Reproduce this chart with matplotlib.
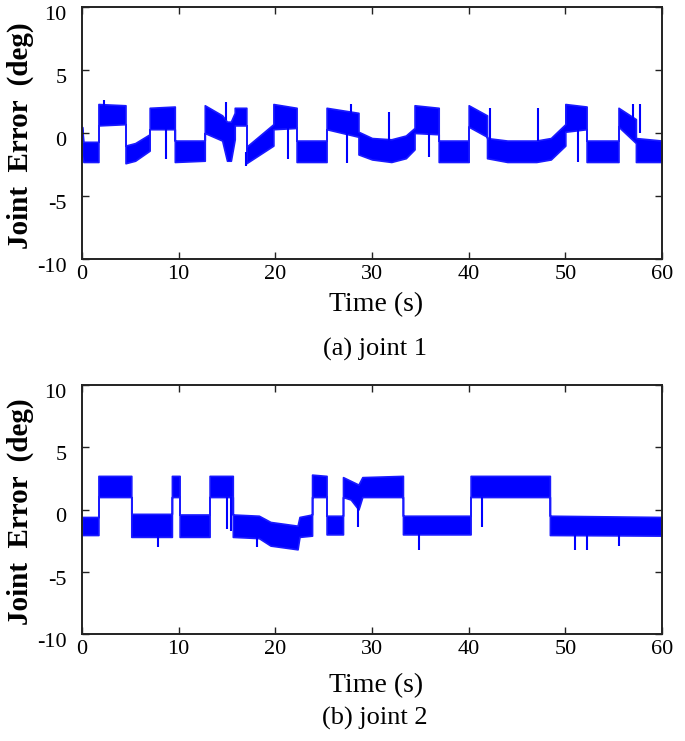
#recreating joint error plots for two joints
import numpy as np
import matplotlib
matplotlib.use('Agg')
import matplotlib.pyplot as plt
import matplotlib.transforms as mtrans

#joint 1 noise band : time, lower edge, upper edge
t1 = [0, 0.15, 1.7, 1.7, 4.5, 4.5, 5.5, 7.0, 7.0, 9.6, 9.6, 12.7, 12.7, 14.5, 15.0, 15.4, 15.8,
      15.8, 17.0, 17.0, 19.8, 19.8, 22.2, 22.2, 25.3, 25.3, 28.6, 28.6, 30.0, 32.0, 33.5, 34.4,
      34.4, 36.9, 36.9, 40.0, 40.0, 41.9, 41.9, 44.0, 47.0, 48.5, 50.0, 50.0, 52.2, 52.2, 55.5,
      55.5, 57.3, 57.3, 60.0]
lo1 = [-1.8, -2.3, -2.3, 0.6, 0.7, -2.4, -2.2, -1.4, 0.3, 0.3, -2.3, -2.2, 0.0, -0.6, -2.2, -2.2, -0.5,
       0.6, 0.6, -2.4, -1.0, 0.3, 0.4, -2.3, -2.3, 0.3, -0.3, -1.7, -2.1, -2.3, -2.0, -1.3,
       0.0, -0.1, -2.3, -2.3, 0.5, -0.3, -2.0, -2.3, -2.3, -2.1, -1.0, 0.1, 0.3, -2.3, -2.3,
       0.5, -0.8, -2.3, -2.3]
hi1 = [0.5, -0.7, -0.7, 2.3, 2.2, -1.0, -0.8, -0.1, 2.0, 2.1, -0.6, -0.6, 2.2, 1.4, 0.9, 0.9, 1.6,
       2.0, 2.0, -1.1, 0.7, 2.3, 2.0, -0.6, -0.6, 2.0, 1.6, 0.1, -0.4, -0.5, -0.2, 0.4,
       2.2, 2.0, -0.6, -0.6, 2.2, 1.4, -0.4, -0.6, -0.6, -0.4, 0.7, 2.3, 2.1, -0.6, -0.6,
       2.0, 1.1, -0.4, -0.6]
#joint 1 spikes
sp1_t = [2.3, 8.7, 14.9, 15.2, 17.0, 21.3, 27.4, 27.8, 31.8, 35.9, 42.2, 47.2, 51.3, 57.0, 57.7]
sp1_a = [1.5, 1.0, 1.0, 0.5, -1.5, 1.0, 0.5, 0.5, -0.6, 0.5, -0.6, -0.6, 0.5, 0.0, 0.0]
sp1_b = [2.6, -2.1, 2.5, -2.2, -2.6, -2.1, -2.4, 2.3, 1.7, -1.9, 2.0, 2.0, -2.3, 2.3, 2.3]

#joint 2 noise band
t2 = [0, 1.7, 1.7, 5.1, 5.1, 9.3, 9.3, 10.1, 10.1, 13.2, 13.2, 15.6, 15.6, 18.3, 19.5, 22.3, 22.5,
      23.8, 23.8, 25.3, 25.3, 27.0, 27.0, 27.8, 28.6, 29.0, 33.2, 33.2, 40.2, 40.2, 48.4, 48.4, 60.0]
lo2 = [-2.05, -2.05, 1.0, 1.0, -2.2, -2.2, 1.0, 1.0, -2.2, -2.2, 1.0, 1.0, -2.2, -2.3, -2.9, -3.2, -2.2,
       -2.1, 1.0, 1.0, -2.0, -2.0, 1.0, 0.8, 0.0, 1.0, 1.0, -2.0, -2.0, 1.0, 1.0, -2.05, -2.1]
hi2 = [-0.6, -0.6, 2.7, 2.7, -0.35, -0.35, 2.7, 2.7, -0.4, -0.4, 2.7, 2.7, -0.4, -0.5, -1.0, -1.3, -0.6,
       -0.4, 2.8, 2.7, -0.5, -0.5, 2.6, 2.3, 2.0, 2.6, 2.7, -0.5, -0.5, 2.7, 2.7, -0.5, -0.6]
#joint 2 spikes
sp2_t = [7.9, 15.0, 15.4, 18.1, 28.6, 34.9, 41.4, 51.0, 52.2, 55.5]
sp2_a = [-1.5, 1.0, 1.0, -1.5, 0.5, -1.5, 1.0, -1.5, -1.5, -1.5]
sp2_b = [-3.0, -1.6, -1.7, -3.0, -1.4, -3.25, -1.4, -3.25, -3.25, -2.9]

plt.rcParams['font.family'] = ['Liberation Serif', 'DejaVu Serif']
plt.rcParams['axes.unicode_minus'] = False

fig = plt.figure(figsize=(6.85, 7.41), dpi=100)
ax1 = fig.add_axes([82/685, 1-259/741, 580/685, 252/741])
ax2 = fig.add_axes([82/685, 1-634/741, 580/685, 249/741])

panels = [(ax1, t1, lo1, hi1, sp1_t, sp1_a, sp1_b), (ax2, t2, lo2, hi2, sp2_t, sp2_a, sp2_b)]
for ax, t, lo, hi, st, sa, sb in panels:
	ax.fill_between(t, lo, hi, color='#0000ff', linewidth=1.2, edgecolor='#1a1aff')
	ax.vlines(st, sa, sb, color='#0000ff', linewidth=1.5)
	ax.set_xlim(0, 60)
	ax.set_ylim(-10, 10)
	ax.set_xticks(np.arange(0, 61, 10))
	ax.set_yticks([-10, -5, 0, 5, 10])
	ax.tick_params(direction='in', top=True, right=True, length=5, width=1, labelsize=16, color='#222222')
	ax.tick_params(axis='x', pad=4)
	ax.tick_params(axis='y', pad=11)
	for s in ax.spines.values():
		s.set_linewidth(1.4)
		s.set_color('#222222')
	off = mtrans.ScaledTranslation(0, -6/100, fig.dpi_scale_trans)
	for lab in ax.get_yticklabels():
		lab.set_transform(lab.get_transform() + off)
	ax.set_ylabel('Joint  Error  (deg)', fontsize=21, fontweight='bold')
	ax.yaxis.set_label_coords(-0.082, 0.49)

fig.text(376/685, 1-305/741, 'Time (s)', fontsize=20, ha='center', va='center')
fig.text(375/685, 1-349/741, '(a) joint 1', fontsize=19, ha='center', va='center')
fig.text(376/685, 1-686/741, 'Time (s)', fontsize=20, ha='center', va='center')
fig.text(375/685, 1-718/741, '(b) joint 2', fontsize=19, ha='center', va='center')

plt.savefig('out.png', dpi=100)
